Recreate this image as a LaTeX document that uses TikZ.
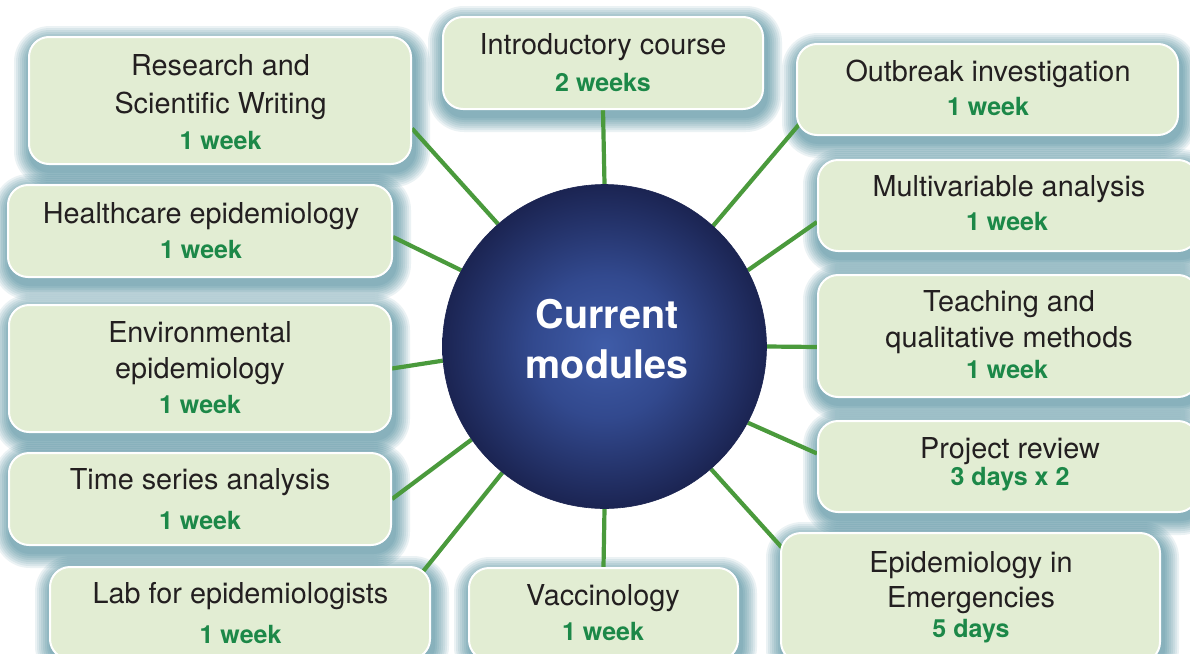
\documentclass[tikz,border=0pt]{standalone}
\usepackage{fontspec}
\setmainfont{TeX Gyre Heros}
\usetikzlibrary{calc}
\definecolor{boxfill}{RGB}{226,237,211}
\definecolor{textdark}{RGB}{35,31,32}
\definecolor{durgreen}{RGB}{28,136,72}
\definecolor{linegreen}{RGB}{74,154,60}
\definecolor{shadowcol}{RGB}{36,112,134}
\definecolor{circin}{RGB}{63,92,168}
\definecolor{circmid}{RGB}{50,73,142}
\definecolor{circout}{RGB}{27,36,82}
\pgfdeclarelayer{shad}
\pgfdeclarelayer{lines}
\pgfsetlayers{shad,lines,main}
\pgfdeclareradialshading{sphere}{\pgfpoint{0bp}{0bp}}{color(0bp)=(circin); color(11bp)=(circmid); color(25bp)=(circout); color(50bp)=(circout)}
\newcommand\modshadow[1]{%
  \foreach \s in {16,14,...,2}{%
    \pgfmathsetmacro\rr{20+\s}%
    \pgfmathsetmacro\xa{-\s+2}%
    \pgfmathsetmacro\ya{\s-6}%
    \pgfmathsetmacro\xb{\s+2}%
    \pgfmathsetmacro\yb{-\s-6}%
    \fill[shadowcol, opacity=0.09, rounded corners=\rr pt]
      ([xshift=\xa pt, yshift=\ya pt]#1.north west) rectangle
      ([xshift=\xb pt, yshift=\yb pt]#1.south east);
  }}
\tikzset{
  modbox/.style={draw=white, line width=2pt, fill=boxfill, rounded corners=20pt, inner sep=0pt, rectangle},
  lbl/.style={font=\fontsize{28.8}{34}\selectfont, text=textdark, anchor=base, inner sep=0pt},
  dur/.style={font=\bfseries\fontsize{25}{30}\selectfont, text=durgreen, anchor=base, inner sep=0pt},
  ctr/.style={font=\bfseries\fontsize{39.5}{46}\selectfont, text=white, anchor=base, inner sep=0pt},
  spoke/.style={draw=linegreen, line width=4.2pt},
}
\begin{document}
\begin{tikzpicture}[x=1pt,y=-1pt]
\path[use as bounding box] (0,0) rectangle (1190,653);

% boxes
\node[modbox, minimum width=382pt, minimum height=127pt] (rb) at (220,100.5) {};
\node[modbox, minimum width=320pt, minimum height=92pt] (ib) at (603,63) {};
\node[modbox, minimum width=381pt, minimum height=91pt] (ob) at (987.5,89.5) {};
\node[modbox, minimum width=384pt, minimum height=92pt] (hb) at (200,231) {};
\node[modbox, minimum width=380pt, minimum height=91pt] (mb) at (1008,205.5) {};
\node[modbox, minimum width=382pt, minimum height=127pt] (eb) at (200,368.5) {};
\node[modbox, minimum width=380pt, minimum height=122pt] (tb) at (1008,336) {};
\node[modbox, minimum width=382pt, minimum height=92pt] (sb) at (200,499) {};
\node[modbox, minimum width=380pt, minimum height=91pt] (pb) at (1008,466.5) {};
\node[modbox, minimum width=380pt, minimum height=92pt] (lb) at (240,613) {};
\node[modbox, minimum width=269pt, minimum height=92pt] (vb) at (603.5,614) {};
\node[modbox, minimum width=379pt, minimum height=129pt] (gb) at (970.5,597.5) {};

% centre circle
\node[circle, minimum size=324pt, inner sep=0pt, shading=sphere, draw=circout, line width=0.6pt] (c) at (604.5,346.5) {};
\node[ctr] (c1) at (607,328) {Current};
\node[ctr] (c2) at (607,378) {modules};

% texts
\node[lbl] (rt1) at (220.5,75) {Research and};
\node[lbl] (rt2) at (220.5,113) {Scientific Writing};
\node[dur] (rt3) at (220.5,149) {1 week};

\node[lbl] (it1) at (603,54) {Introductory course};
\node[dur] (it2) at (603,91) {2 weeks};

\node[lbl] (ot1) at (988,81) {Outbreak investigation};
\node[dur] (ot2) at (988,115) {1 week};

\node[lbl] (ht1) at (201,223) {Healthcare epidemiology};
\node[dur] (ht2) at (201,258) {1 week};

\node[lbl] (mt1) at (1009,196) {Multivariable analysis};
\node[dur] (mt2) at (1007,230) {1 week};

\node[lbl] (et1) at (200,342) {Environmental};
\node[lbl] (et2) at (200,378) {epidemiology};
\node[dur] (et3) at (200,413) {1 week};

\node[lbl] (tt1) at (1009,311) {Teaching and};
\node[lbl] (tt2) at (1009,347) {qualitative methods};
\node[dur] (tt3) at (1007,378) {1 week};

\node[lbl] (st1) at (200,489) {Time series analysis};
\node[dur] (st2) at (200,529) {1 week};

\node[lbl] (pt1) at (1010,458) {Project review};
\node[dur] (pt2) at (1010,485) {3 days x 2};

\node[lbl] (lt1) at (240.5,603) {Lab for epidemiologists};
\node[dur] (lt2) at (240.5,643) {1 week};

\node[lbl] (vt1) at (603,605) {Vaccinology};
\node[dur] (vt2) at (603,640) {1 week};

\node[lbl] (gt1) at (971,572) {Epidemiology in};
\node[lbl] (gt2) at (971,607) {Emergencies};
\node[dur] (gt3) at (971,637) {5 days};

% shadows
\begin{pgfonlayer}{shad}
  \fill[white] (0,0) rectangle (1190,653);
  \modshadow{rb}\modshadow{ib}\modshadow{ob}\modshadow{hb}
  \modshadow{mb}\modshadow{eb}\modshadow{tb}\modshadow{sb}
  \modshadow{pb}\modshadow{lb}\modshadow{vb}\modshadow{gb}
\end{pgfonlayer}

% spokes
\begin{pgfonlayer}{lines}
  \draw[spoke] (c.90) -- (ib.south);
  \draw[spoke] (c.131.5) -- ([yshift=-28pt]rb.east);
  \draw[spoke] (c.152.8) -- ([yshift=-6pt]hb.east);
  \draw[spoke] (c.185.7) -- (eb.east);
  \draw[spoke] (c.215.5) -- (sb.east);
  \draw[spoke] (c.231.2) -- ([xshift=-10pt,yshift=-8pt]lb.north east);
  \draw[spoke] (c.270) -- (vb.north);
  \draw[spoke] (c.311) -- ([xshift=4pt,yshift=-18pt]gb.north west);
  \draw[spoke] (c.332.8) -- ([yshift=13pt]pb.west);
  \draw[spoke] (c.0) -- ([yshift=-11pt]tb.west);
  \draw[spoke] (c.28.9) -- ([yshift=-16.5pt]mb.west);
  \draw[spoke] (c.48.2) -- ([xshift=3pt,yshift=-35pt]ob.west);
\end{pgfonlayer}
\end{tikzpicture}
\end{document}
